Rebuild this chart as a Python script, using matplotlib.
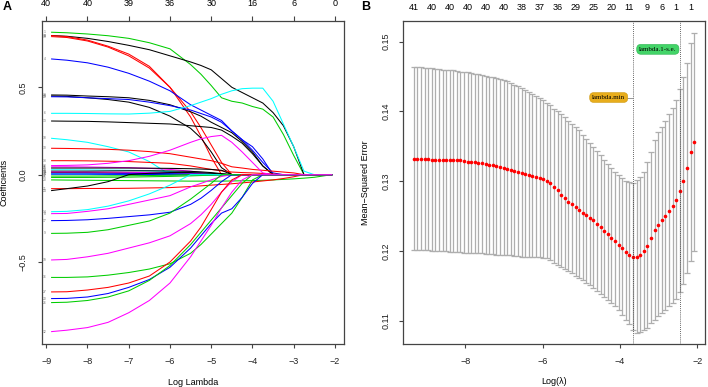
import matplotlib.pyplot as plt

plt.rcParams["font.family"] = ["Liberation Sans", "DejaVu Sans"]
plt.rcParams["axes.unicode_minus"] = True

# =========================
# Panel A: coefficient paths
# =========================

LOG_LAMBDA_A = [-8.87, -8.5, -8.0, -7.5, -7.0, -6.5, -6.0, -5.5, -5.25, -5.0, -4.75,
                -4.5, -4.25, -4.0, -3.75, -3.5, -3.25, -3.0, -2.75, -2.5, -2.08]

COEF_PATHS = {
    "1":  [0.815, 0.812, 0.805, 0.795, 0.780, 0.755, 0.720, 0.630, 0.575, 0.510, 0.440, 0.420, 0.410, 0.390, 0.375, 0.330, 0.230, 0.110, 0.0, 0.0, 0.0],
    "18": [0.796, 0.792, 0.780, 0.762, 0.740, 0.715, 0.680, 0.645, 0.625, 0.600, 0.550, 0.500, 0.470, 0.440, 0.410, 0.355, 0.280, 0.160, 0.0, 0.0, 0.0],
    "3":  [0.796, 0.790, 0.770, 0.735, 0.690, 0.620, 0.500, 0.330, 0.220, 0.100, 0.0, 0, 0, 0, 0, 0, 0, 0, 0, 0, 0],
    "39": [0.790, 0.785, 0.765, 0.730, 0.680, 0.610, 0.500, 0.360, 0.270, 0.170, 0.070, 0.0, 0, 0, 0, 0, 0, 0, 0, 0, 0],
    "4":  [0.662, 0.655, 0.640, 0.615, 0.580, 0.535, 0.480, 0.400, 0.370, 0.340, 0.310, 0.250, 0.200, 0.160, 0.090, 0.0, 0, 0, 0, 0, 0],
    "28": [0.456, 0.455, 0.450, 0.446, 0.440, 0.425, 0.400, 0.360, 0.335, 0.300, 0.270, 0.240, 0.190, 0.130, 0.050, 0.0, 0, 0, 0, 0, 0],
    "34": [0.450, 0.448, 0.440, 0.430, 0.415, 0.385, 0.335, 0.265, 0.210, 0.130, 0.040, 0.0, 0, 0, 0, 0, 0, 0, 0, 0, 0],
    "29": [0.446, 0.445, 0.440, 0.435, 0.430, 0.415, 0.395, 0.370, 0.350, 0.330, 0.300, 0.250, 0.200, 0.140, 0.070, 0.010, 0.0, 0, 0, 0, 0],
    "6":  [0.351, 0.351, 0.350, 0.348, 0.347, 0.352, 0.362, 0.395, 0.415, 0.435, 0.460, 0.480, 0.492, 0.495, 0.495, 0.420, 0.290, 0.160, 0.020, 0.0, 0.0],
    "13": [0.307, 0.306, 0.305, 0.302, 0.298, 0.294, 0.290, 0.280, 0.275, 0.270, 0.255, 0.220, 0.180, 0.120, 0.050, 0.0, 0, 0, 0, 0, 0],
    "10": [0.208, 0.200, 0.185, 0.160, 0.130, 0.075, 0.0, 0, 0, 0, 0, 0, 0, 0, 0, 0, 0, 0, 0, 0, 0],
    "30": [0.151, 0.150, 0.148, 0.145, 0.140, 0.132, 0.120, 0.100, 0.090, 0.080, 0.065, 0.045, 0.038, 0.030, 0.025, 0.020, 0.015, 0.010, 0.0, 0.0, 0.0],
    "33": [0.080, 0.080, 0.079, 0.077, 0.075, 0.070, 0.065, 0.050, 0.040, 0.030, 0.022, 0.015, 0.012, 0.010, 0.007, 0.004, 0.0, 0, 0, 0, 0],
    "32": [0.052, 0.053, 0.056, 0.065, 0.080, 0.105, 0.140, 0.185, 0.205, 0.218, 0.225, 0.185, 0.130, 0.070, 0.010, 0.0, 0, 0, 0, 0, 0],
    "31": [0.045, 0.045, 0.044, 0.042, 0.040, 0.036, 0.030, 0.020, 0.012, 0.005, 0.0, 0, 0, 0, 0, 0, 0, 0, 0, 0, 0],
    "25": [0.038, 0.038, 0.038, 0.038, 0.038, 0.037, 0.036, 0.034, 0.032, 0.030, 0.025, 0.0, 0, 0, 0, 0, 0, 0, 0, 0, 0],
    "22": [0.028, 0.028, 0.027, 0.026, 0.025, 0.022, 0.018, 0.012, 0.008, 0.004, 0.0, 0, 0, 0, 0, 0, 0, 0, 0, 0, 0],
    "40": [0.020, 0.020, 0.020, 0.021, 0.022, 0.022, 0.021, 0.019, 0.016, 0.012, 0.006, 0.0, 0, 0, 0, 0, 0, 0, 0, 0, 0],
    "11": [0.015, 0.015, 0.014, 0.014, 0.013, 0.012, 0.010, 0.008, 0.005, 0.0, 0, 0, 0, 0, 0, 0, 0, 0, 0, 0, 0],
    "41": [0.012, 0.012, 0.011, 0.010, 0.008, 0.005, 0.0, 0, 0, 0, 0, 0, 0, 0, 0, 0, 0, 0, 0, 0, 0],
    "7":  [0.009, 0.009, 0.009, 0.008, 0.008, 0.007, 0.006, 0.004, 0.002, 0.0, 0, 0, 0, 0, 0, 0, 0, 0, 0, 0, 0],
    "36": [0.004, 0.004, 0.003, 0.002, 0.0, 0, 0, 0, 0, 0, 0, 0, 0, 0, 0, 0, 0, 0, 0, 0, 0],
    "5":  [0.003, 0.003, 0.003, 0.002, 0.002, 0.001, 0.0, 0, 0, 0, 0, 0, 0, 0, 0, 0, 0, 0, 0, 0, 0],
    "37": [-0.008, -0.008, -0.008, -0.007, -0.006, -0.005, -0.003, 0.0, 0, 0, 0, 0, 0, 0, 0, 0, 0, 0, 0, 0, 0],
    "15": [-0.016, -0.016, -0.016, -0.015, -0.014, -0.012, -0.010, -0.007, -0.005, -0.003, 0.0, 0, 0, 0, 0, 0, 0, 0, 0, 0, 0],
    "23": [-0.030, -0.031, -0.032, -0.033, -0.034, -0.035, -0.036, -0.037, -0.037, -0.037, -0.037, -0.036, -0.035, -0.034, -0.032, -0.030, -0.027, -0.024, -0.020, -0.015, 0.0],
    "21": [-0.080, -0.080, -0.079, -0.079, -0.078, -0.076, -0.074, -0.068, -0.064, -0.060, -0.056, -0.052, -0.047, -0.042, -0.036, -0.030, -0.022, -0.012, 0.0, 0.0, 0.0],
    "24": [-0.091, -0.080, -0.065, -0.040, 0.0, 0.008, 0.012, 0.012, 0.010, 0.008, 0.004, 0.0, 0, 0, 0, 0, 0, 0, 0, 0, 0],
    "14": [-0.212, -0.210, -0.200, -0.180, -0.150, -0.110, -0.060, 0.0, 0, 0, 0, 0, 0, 0, 0, 0, 0, 0, 0, 0, 0],
    "8":  [-0.223, -0.222, -0.210, -0.195, -0.170, -0.145, -0.120, -0.070, -0.050, -0.030, -0.010, 0.0, 0, 0, 0, 0, 0, 0, 0, 0, 0],
    "17": [-0.263, -0.262, -0.258, -0.250, -0.240, -0.230, -0.215, -0.170, -0.135, -0.090, -0.040, 0.0, 0, 0, 0, 0, 0, 0, 0, 0, 0],
    "9":  [-0.336, -0.335, -0.330, -0.315, -0.290, -0.265, -0.220, -0.140, -0.095, -0.050, 0.0, 0, 0, 0, 0, 0, 0, 0, 0, 0, 0],
    "19": [-0.488, -0.485, -0.470, -0.450, -0.420, -0.390, -0.350, -0.280, -0.230, -0.170, -0.100, -0.040, 0.0, 0, 0, 0, 0, 0, 0, 0, 0],
    "16": [-0.588, -0.588, -0.585, -0.575, -0.560, -0.540, -0.510, -0.450, -0.400, -0.340, -0.280, -0.220, -0.130, -0.030, 0.0, 0, 0, 0, 0, 0, 0],
    "27": [-0.671, -0.670, -0.660, -0.645, -0.620, -0.580, -0.500, -0.380, -0.300, -0.200, -0.100, -0.030, 0.0, 0, 0, 0, 0, 0, 0, 0, 0],
    "20": [-0.709, -0.708, -0.700, -0.680, -0.645, -0.600, -0.530, -0.420, -0.350, -0.280, -0.220, -0.195, -0.130, -0.050, 0.0, 0, 0, 0, 0, 0, 0],
    "26": [-0.732, -0.730, -0.720, -0.700, -0.665, -0.605, -0.520, -0.400, -0.330, -0.260, -0.190, -0.120, -0.050, 0.0, 0, 0, 0, 0, 0, 0, 0],
    "12": [-0.898, -0.890, -0.875, -0.845, -0.790, -0.720, -0.620, -0.470, -0.380, -0.290, -0.190, -0.100, -0.030, 0.0, 0, 0, 0, 0, 0, 0, 0],
}

PATH_COLOURS = {
    "1": "#00CD00", "18": "black", "3": "red", "39": "red", "4": "blue",
    "28": "black", "34": "black", "29": "blue", "6": "cyan", "13": "black",
    "10": "cyan", "30": "red", "33": "red", "32": "magenta", "31": "magenta",
    "25": "black", "22": "cyan", "40": "black", "11": "magenta", "41": "red",
    "7": "blue", "36": "cyan", "5": "blue", "37": "#00CD00", "15": "#00CD00",
    "23": "#00CD00", "21": "red", "24": "black", "14": "cyan", "8": "magenta",
    "17": "blue", "9": "#00CD00", "19": "magenta", "16": "#00CD00", "27": "red",
    "20": "blue", "26": "#00CD00", "12": "magenta",
}

A_TOP_TICKS = [-9, -8, -7, -6, -5, -4, -3, -2]
A_TOP_COUNTS = [40, 40, 39, 36, 30, 16, 6, 0]

# =========================
# Panel B: cross-validation curve
# =========================

LOG_LAMBDA_B = [
    -9.330, -9.237, -9.144, -9.051, -8.958, -8.865, -8.772, -8.679, -8.586, -8.494,
    -8.401, -8.308, -8.215, -8.122, -8.029, -7.936, -7.843, -7.750, -7.657, -7.564,
    -7.471, -7.378, -7.285, -7.192, -7.099, -7.006, -6.913, -6.820, -6.727, -6.634,
    -6.542, -6.449, -6.356, -6.263, -6.170, -6.077, -5.984, -5.891, -5.798, -5.705,
    -5.612, -5.519, -5.426, -5.333, -5.240, -5.147, -5.054, -4.961, -4.868, -4.775,
    -4.683, -4.590, -4.497, -4.404, -4.311, -4.218, -4.125, -4.032, -3.939, -3.846,
    -3.753, -3.660, -3.567, -3.474, -3.381, -3.288, -3.195, -3.102, -3.009, -2.916,
    -2.823, -2.731, -2.638, -2.545, -2.452, -2.359, -2.266, -2.173, -2.080,
]

MSE_MEAN = [
    0.1332, 0.1332, 0.1332, 0.1332, 0.1332, 0.1331, 0.1331, 0.1331, 0.1331, 0.1331,
    0.1330, 0.1330, 0.1330, 0.1330, 0.1329, 0.1328, 0.1328, 0.1327, 0.1326, 0.1326,
    0.1325, 0.1324, 0.1323, 0.1322, 0.1321, 0.1319, 0.1318, 0.1316, 0.1315, 0.1313,
    0.1312, 0.1311, 0.1309, 0.1308, 0.1306, 0.1305, 0.1303, 0.1301, 0.1298, 0.1292,
    0.1287, 0.1281, 0.1276, 0.1271, 0.1267, 0.1263, 0.1259, 0.1255, 0.1252, 0.1248,
    0.1244, 0.1239, 0.1234, 0.1229, 0.1224, 0.1219, 0.1214, 0.1209, 0.1204, 0.1199,
    0.1195, 0.1192, 0.1192, 0.1195, 0.1200, 0.1208, 0.1219, 0.1230, 0.1238, 0.1244,
    0.1251, 0.1258, 0.1264, 0.1273, 0.1286, 0.1301, 0.1319, 0.1342, 0.1357,
]

MSE_UPPER = [
    0.1463, 0.1463, 0.1463, 0.1462, 0.1462, 0.1462, 0.1461, 0.1461, 0.1460, 0.1460,
    0.1459, 0.1459, 0.1458, 0.1457, 0.1457, 0.1456, 0.1455, 0.1454, 0.1453, 0.1452,
    0.1451, 0.1450, 0.1449, 0.1448, 0.1446, 0.1445, 0.1443, 0.1441, 0.1438, 0.1436,
    0.1434, 0.1431, 0.1428, 0.1425, 0.1422, 0.1419, 0.1416, 0.1412, 0.1409, 0.1404,
    0.1400, 0.1396, 0.1392, 0.1387, 0.1382, 0.1378, 0.1373, 0.1367, 0.1361, 0.1355,
    0.1349, 0.1343, 0.1337, 0.1331, 0.1325, 0.1319, 0.1314, 0.1309, 0.1305, 0.1301,
    0.1299, 0.1297, 0.1302, 0.1306, 0.1314, 0.1327, 0.1342, 0.1359, 0.1370, 0.1378,
    0.1387, 0.1396, 0.1405, 0.1417, 0.1432, 0.1450, 0.1470, 0.1498, 0.1513,
]

MSE_LOWER = [
    0.1201, 0.1201, 0.1201, 0.1201, 0.1201, 0.1200, 0.1200, 0.1200, 0.1200, 0.1200,
    0.1199, 0.1199, 0.1199, 0.1199, 0.1198, 0.1198, 0.1198, 0.1197, 0.1197, 0.1197,
    0.1196, 0.1196, 0.1196, 0.1195, 0.1195, 0.1194, 0.1194, 0.1194, 0.1193, 0.1193,
    0.1192, 0.1192, 0.1192, 0.1191, 0.1191, 0.1191, 0.1190, 0.1190, 0.1187, 0.1183,
    0.1180, 0.1177, 0.1174, 0.1171, 0.1168, 0.1165, 0.1161, 0.1158, 0.1155, 0.1151,
    0.1147, 0.1143, 0.1139, 0.1135, 0.1130, 0.1126, 0.1121, 0.1115, 0.1109, 0.1102,
    0.1095, 0.1087, 0.1083, 0.1084, 0.1087, 0.1090, 0.1097, 0.1102, 0.1107, 0.1111,
    0.1116, 0.1121, 0.1126, 0.1131, 0.1141, 0.1153, 0.1168, 0.1186, 0.1200,
]

B_TOP_INDEX = [0, 5, 10, 15, 20, 25, 30, 35, 40, 45, 50, 55, 60, 65, 69, 73, 77]
B_TOP_COUNTS = [41, 40, 40, 40, 40, 40, 38, 37, 36, 29, 25, 20, 11, 9, 6, 1, 1]

LAMBDA_MIN_IDX = 61
LAMBDA_1SE_IDX = 74


def style_r_axes(ax):
    for sp in ax.spines.values():
        sp.set_color("#444444")
        sp.set_linewidth(0.9)
    ax.tick_params(direction="out", length=2.8, width=0.8, color="#444444",
                   labelsize=6.5, labelcolor="#222222")


def plot_paths(ax):
    for key, vals in COEF_PATHS.items():
        ax.plot(LOG_LAMBDA_A, vals, color=PATH_COLOURS[key], lw=0.75)
        ax.text(-9.03, vals[0], key, fontsize=2.4, color="#777777",
                ha="center", va="center")

    ax.set_xlim(-9.11, -1.78)
    ax.set_ylim(-0.969, 0.881)
    style_r_axes(ax)
    ax.set_xticks(range(-9, -1))
    ax.set_yticks([-0.5, 0.0, 0.5], labels=["\u22120.5", "0.0", "0.5"])
    ax.tick_params(axis="x", pad=6.5)
    ax.tick_params(axis="y", pad=7.5, labelrotation=90)
    for t in ax.get_yticklabels():
        t.set_va("center")
    ax.set_xlabel("Log Lambda", fontsize=6.5, labelpad=9)
    ax.set_ylabel("Coefficients", fontsize=6.5, labelpad=7)

    top = ax.secondary_xaxis("top")
    top.set_xticks(A_TOP_TICKS, labels=[str(c) for c in A_TOP_COUNTS])
    top.tick_params(direction="out", length=3.5, width=0.8, color="#444444",
                    labelsize=6.5, pad=5.5)
    top.spines["top"].set_visible(False)


def plot_cv(ax):
    err_lo = [m - lo for m, lo in zip(MSE_MEAN, MSE_LOWER)]
    err_hi = [hi - m for m, hi in zip(MSE_MEAN, MSE_UPPER)]
    ax.errorbar(LOG_LAMBDA_B, MSE_MEAN, yerr=[err_lo, err_hi], fmt="none",
                ecolor="#AEAEAE", elinewidth=0.9, capsize=2.3, capthick=0.9)
    ax.plot(LOG_LAMBDA_B, MSE_MEAN, "o", color="red", ms=2.6, mec="none")

    x_min = LOG_LAMBDA_B[LAMBDA_MIN_IDX]
    x_1se = LOG_LAMBDA_B[LAMBDA_1SE_IDX]
    ax.axvline(x_min, color="#333333", lw=0.6, ls=(0, (1, 1.5)))
    ax.axvline(x_1se, color="#333333", lw=0.6, ls=(0, (1, 1.5)))

    ax.plot([-3.83, x_min], [0.1420, 0.1420], color="#888888", lw=0.6)
    ax.text(-4.29, 0.1420, "lambda.min", fontsize=5, family="Liberation Serif",
            ha="center", va="center",
            bbox=dict(boxstyle="round,pad=0.35,rounding_size=0.6",
                      fc="#E8AD1C", ec="#CF9A12", lw=0.4))
    ax.text(-3.02, 0.1489, "lambda.1-s.e.", fontsize=5, family="Liberation Serif",
            ha="center", va="center",
            bbox=dict(boxstyle="round,pad=0.35,rounding_size=0.6",
                      fc="#43D468", ec="#2DB552", lw=0.4))

    ax.set_xlim(-9.60, -1.80)
    ax.set_ylim(0.1067, 0.1530)
    style_r_axes(ax)
    ax.set_xticks([-8, -6, -4, -2])
    ax.set_yticks([0.11, 0.12, 0.13, 0.14, 0.15])
    ax.tick_params(axis="x", pad=6.5)
    ax.tick_params(axis="y", pad=6, labelrotation=90)
    for t in ax.get_yticklabels():
        t.set_va("center")
    ax.set_xlabel("Log(\u03bb)", fontsize=6.5, labelpad=8)
    ax.set_ylabel("Mean\u2212Squared Error", fontsize=6.5, labelpad=9)

    top = ax.secondary_xaxis("top")
    top.set_xticks([LOG_LAMBDA_B[i] for i in B_TOP_INDEX],
                   labels=[str(c) for c in B_TOP_COUNTS])
    top.tick_params(length=0, labelsize=6.5, pad=6.5)
    top.spines["top"].set_visible(False)


def main():
    fig = plt.figure(figsize=(7.08, 3.87), dpi=100)
    ax_a = fig.add_axes([0.0589, 0.1111, 0.4270, 0.8354])
    ax_b = fig.add_axes([0.5696, 0.1111, 0.4262, 0.8354])

    plot_paths(ax_a)
    plot_cv(ax_b)

    fig.text(7 / 708, 1 - 7.5 / 387, "A", fontsize=9, fontweight="bold",
             ha="center", va="center")
    fig.text(366 / 708, 1 - 7.5 / 387, "B", fontsize=9, fontweight="bold",
             ha="center", va="center")

    fig.savefig("out.png", dpi=100)
    plt.close(fig)


if __name__ == "__main__":
    main()
